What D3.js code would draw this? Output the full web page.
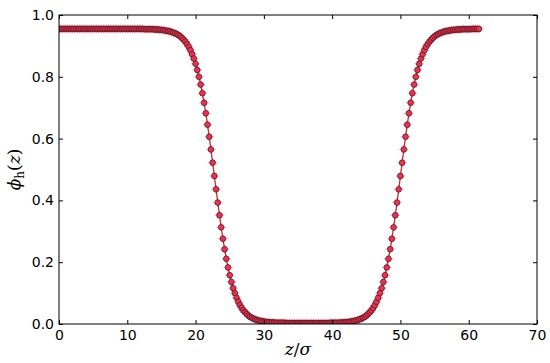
<!DOCTYPE html>
<html><head><meta charset="utf-8">
<script src="https://cdn.jsdelivr.net/npm/d3@7"></script>
<style>html,body{margin:0;padding:0;background:#fff}</style>
</head><body><svg id="c" width="550" height="363"></svg>
<script>
const z = [
0,0.25,0.5,0.75, 1,1.25,1.5,1.75, 2,2.25,2.5,2.75, 3,3.25,3.5,3.75, 4,4.25,4.5,4.75,
5,5.25,5.5,5.75, 6,6.25,6.5,6.75, 7,7.25,7.5,7.75, 8,8.25,8.5,8.75, 9,9.25,9.5,9.75,
10,10.25,10.5,10.75, 11,11.25,11.5,11.75, 12,12.25,12.5,12.75, 13,13.25,13.5,13.75, 14,14.25,14.5,14.75,
15,15.25,15.5,15.75, 16,16.25,16.5,16.75, 17,17.25,17.5,17.75, 18,18.25,18.5,18.75, 19,19.25,19.5,19.75,
20,20.25,20.5,20.75, 21,21.25,21.5,21.75, 22,22.25,22.5,22.75, 23,23.25,23.5,23.75, 24,24.25,24.5,24.75,
25,25.25,25.5,25.75, 26,26.25,26.5,26.75, 27,27.25,27.5,27.75, 28,28.25,28.5,28.75, 29,29.25,29.5,29.75,
30,30.25,30.5,30.75, 31,31.25,31.5,31.75, 32,32.25,32.5,32.75, 33,33.25,33.5,33.75, 34,34.25,34.5,34.75,
35,35.25,35.5,35.75, 36,36.25,36.5,36.75, 37,37.25,37.5,37.75, 38,38.25,38.5,38.75, 39,39.25,39.5,39.75,
40,40.25,40.5,40.75, 41,41.25,41.5,41.75, 42,42.25,42.5,42.75, 43,43.25,43.5,43.75, 44,44.25,44.5,44.75,
45,45.25,45.5,45.75, 46,46.25,46.5,46.75, 47,47.25,47.5,47.75, 48,48.25,48.5,48.75, 49,49.25,49.5,49.75,
50,50.25,50.5,50.75, 51,51.25,51.5,51.75, 52,52.25,52.5,52.75, 53,53.25,53.5,53.75, 54,54.25,54.5,54.75,
55,55.25,55.5,55.75, 56,56.25,56.5,56.75, 57,57.25,57.5,57.75, 58,58.25,58.5,58.75, 59,59.25,59.5,59.75,
60,60.25,60.5,60.75, 61,61.25,61.5
];
const phi = [
0.955,0.955,0.955,0.955, 0.955,0.955,0.955,0.955, 0.955,0.955,0.955,0.955, 0.955,0.955,0.955,0.955, 0.955,0.955,0.955,0.955,
0.955,0.955,0.955,0.955, 0.955,0.955,0.955,0.955, 0.955,0.955,0.955,0.955, 0.955,0.955,0.955,0.955, 0.955,0.955,0.955,0.955,
0.955,0.955,0.955,0.955, 0.955,0.955,0.955,0.955, 0.955,0.955,0.954,0.954, 0.954,0.954,0.954,0.954, 0.953,0.953,0.953,0.952,
0.952,0.951,0.950,0.949, 0.948,0.947,0.945,0.943, 0.941,0.938,0.935,0.931, 0.926,0.920,0.914,0.906, 0.897,0.886,0.873,0.859,
0.842,0.822,0.800,0.775, 0.747,0.716,0.682,0.645, 0.606,0.565,0.522,0.479, 0.436,0.393,0.352,0.313, 0.276,0.242,0.211,0.183,
0.158,0.136,0.116,0.100, 0.085,0.072,0.061,0.052, 0.044,0.038,0.032,0.027, 0.023,0.020,0.017,0.015, 0.013,0.011,0.010,0.009,
0.008,0.007,0.006,0.006, 0.005,0.005,0.005,0.004, 0.004,0.004,0.004,0.004, 0.004,0.003,0.003,0.003, 0.003,0.003,0.003,0.003,
0.003,0.003,0.003,0.003, 0.003,0.003,0.003,0.003, 0.003,0.003,0.003,0.003, 0.003,0.003,0.003,0.003, 0.003,0.003,0.003,0.004,
0.004,0.004,0.004,0.004, 0.004,0.005,0.005,0.005, 0.006,0.006,0.007,0.008, 0.009,0.010,0.011,0.013, 0.015,0.017,0.020,0.023,
0.027,0.032,0.038,0.044, 0.052,0.061,0.072,0.085, 0.100,0.116,0.136,0.158, 0.183,0.211,0.242,0.276, 0.313,0.352,0.393,0.436,
0.479,0.522,0.565,0.606, 0.645,0.682,0.716,0.747, 0.775,0.800,0.822,0.842, 0.859,0.873,0.886,0.897, 0.906,0.914,0.920,0.926,
0.931,0.935,0.938,0.941, 0.943,0.945,0.947,0.948, 0.949,0.950,0.951,0.952, 0.952,0.953,0.953,0.953, 0.954,0.954,0.954,0.954,
0.954,0.954,0.955,0.955, 0.955,0.955,0.955
];
const xTicks = [0,10,20,30,40,50,60,70];
const yTicks = [0.0,0.2,0.4,0.6,0.8,1.0];
const zErr = 0.7, phiErr = 0.014;

const W = 550, H = 363, m = {l:59, r:13, t:15, b:39};
const svg = d3.select("#c");
const x = d3.scaleLinear().domain([0,70]).range([m.l, W-m.r]);
const y = d3.scaleLinear().domain([0,1]).range([H-m.b, m.t]);
const data = z.map((v,i)=>({z:v, p:phi[i]}));

svg.append("defs").append("clipPath").attr("id","clip")
  .append("rect").attr("x",m.l).attr("y",m.t).attr("width",W-m.l-m.r).attr("height",H-m.t-m.b);

const plot = svg.append("g").attr("clip-path","url(#clip)");
const eb = plot.append("g").attr("stroke","#f28ca2").attr("stroke-width",1.2).attr("opacity",0.7);
eb.selectAll("line.v").data(data).join("line").attr("class","v")
  .attr("x1",d=>x(d.z)).attr("x2",d=>x(d.z)).attr("y1",d=>y(d.p-phiErr)).attr("y2",d=>y(d.p+phiErr));
eb.selectAll("line.h").data(data).join("line").attr("class","h")
  .attr("x1",d=>x(d.z-zErr)).attr("x2",d=>x(d.z+zErr)).attr("y1",d=>y(d.p)).attr("y2",d=>y(d.p));
plot.append("path").datum(data).attr("fill","none").attr("stroke","#c8283c").attr("stroke-width",1.3)
  .attr("d", d3.line().x(d=>x(d.z)).y(d=>y(d.p)));
plot.append("g").selectAll("circle").data(data).join("circle")
  .attr("cx",d=>x(d.z)).attr("cy",d=>y(d.p)).attr("r",2.9)
  .attr("fill","#e6334f").attr("stroke","#2a1015").attr("stroke-width",0.6);

const font = "DejaVu Sans, sans-serif";
function style(g){
  g.select(".domain").remove();
  g.selectAll(".tick line").attr("stroke","#000").attr("stroke-width",1);
  g.selectAll(".tick text").attr("font-family",font).attr("font-size",14).attr("fill","#000");
}
svg.append("g").attr("transform",`translate(0,${H-m.b})`)
  .call(d3.axisBottom(x).tickValues(xTicks).tickFormat(d3.format("d")).tickSize(-4).tickPadding(6)).call(style);
svg.append("g").attr("transform",`translate(0,${m.t})`)
  .call(d3.axisTop(x).tickValues(xTicks).tickFormat("").tickSize(-4)).call(style);
svg.append("g").attr("transform",`translate(${m.l},0)`)
  .call(d3.axisLeft(y).tickValues(yTicks).tickFormat(d3.format(".1f")).tickSize(-4).tickPadding(5)).call(style);
svg.append("g").attr("transform",`translate(${W-m.r},0)`)
  .call(d3.axisRight(y).tickValues(yTicks).tickFormat("").tickSize(-4)).call(style);

svg.append("rect").attr("x",m.l).attr("y",m.t).attr("width",W-m.l-m.r).attr("height",H-m.t-m.b)
  .attr("fill","none").attr("stroke","#000").attr("stroke-width",1);

const xl = svg.append("text").attr("x",(m.l+W-m.r)/2).attr("y",355).attr("text-anchor","middle")
  .attr("font-family","DejaVu Serif, serif").attr("font-size",17);
xl.append("tspan").attr("font-style","italic").text("z");
xl.append("tspan").text("/");
xl.append("tspan").attr("font-style","italic").text("σ");
const yl = svg.append("text").attr("transform",`translate(20,${(m.t+H-m.b)/2}) rotate(-90)`).attr("text-anchor","middle")
  .attr("font-family","DejaVu Serif, serif").attr("font-size",17);
yl.append("tspan").attr("font-style","italic").text("ϕ");
yl.append("tspan").attr("font-size",12).attr("dy",4).text("h");
yl.append("tspan").attr("dy",-4).text("(");
yl.append("tspan").attr("font-style","italic").text("z");
yl.append("tspan").text(")");
</script></body></html>
